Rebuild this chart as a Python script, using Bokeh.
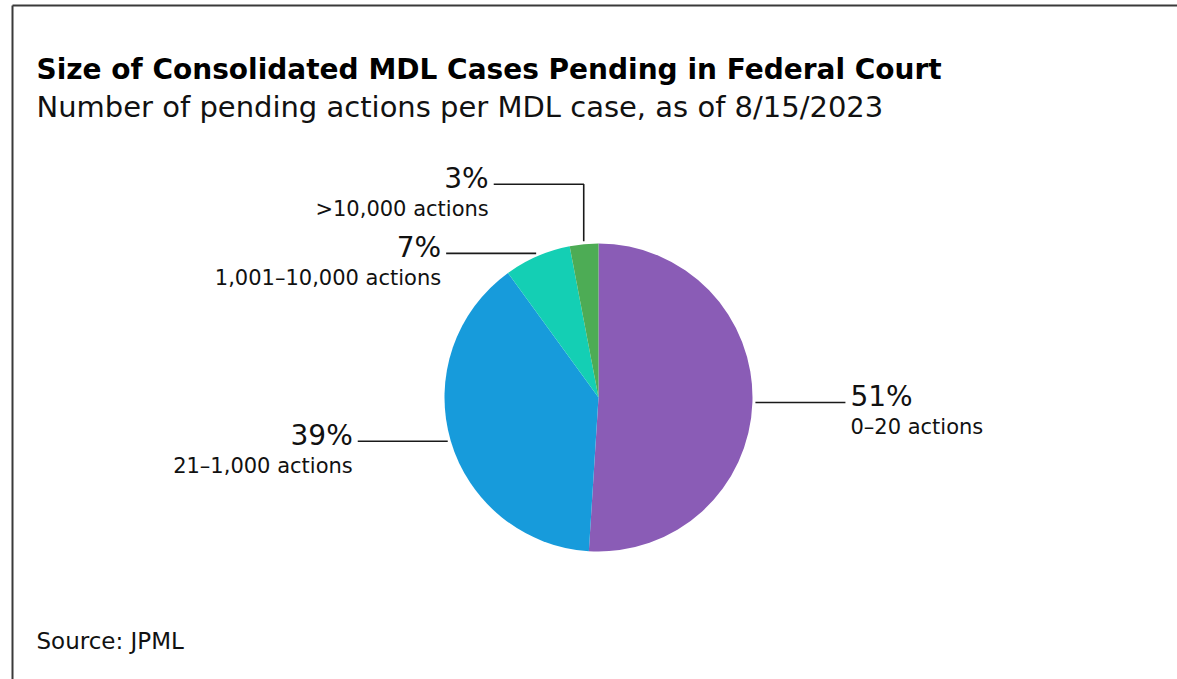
import math
from bokeh.plotting import figure
from bokeh.models import Range1d, ColumnDataSource
from bokeh.core.properties import value
from bokeh.embed import file_html
from bokeh.resources import INLINE

# Share of MDL cases by number of pending actions (%), clockwise from 12 o'clock
shares = [51, 39, 7, 3]
pct_labels = ["51%", "39%", "7%", "3%"]
size_labels = ["0\u201320 actions", "21\u20131,000 actions", "1,001\u201310,000 actions", ">10,000 actions"]
colors = ["#8a5cb6", "#179bdb", "#14cfb4", "#4dac55"]

title = "Size of Consolidated MDL Cases Pending in Federal Court"
subtitle = "Number of pending actions per MDL case, as of 8/15/2023"
source = "Source: JPML"

W, H = 1177, 679
FONT = value("DejaVu Sans")
INK = "#111111"

p = figure(width=W, height=H, x_range=Range1d(0, W), y_range=Range1d(0, H),
           x_axis_type=None, y_axis_type=None, toolbar_location=None,
           output_backend="svg", min_border=0, outline_line_color=None)
p.grid.visible = False
p.background_fill_color = "white"
p.border_fill_color = "white"

# frame lines (top and left)
p.segment(x0=[12, 12], y0=[H - 5, H - 5], x1=[W, 12], y1=[H - 5, 0],
          line_color="#3a3a3a", line_width=2)

# pie geometry
cx, cy, r = 598, H - 397, 154
total = float(sum(shares))
starts, ends, mids = [], [], []
cum = 0.0
for s in shares:
    a0 = math.pi / 2 - 2 * math.pi * cum / total
    cum += s
    a1 = math.pi / 2 - 2 * math.pi * cum / total
    starts.append(a0)
    ends.append(a1)
    mids.append((a0 + a1) / 2)

src = ColumnDataSource(dict(start=starts, end=ends, color=colors))
p.wedge(x=cx, y=cy, radius=r, start_angle="start", end_angle="end",
        direction="clock", fill_color="color", line_color=None, source=src)

# leader lines and labels
gap, run = 3, 90
rise = [0, 0, 0, 57]
for i, m in enumerate(mids):
    ex = cx + (r + gap) * math.cos(m)
    ey = cy + (r + gap) * math.sin(m)
    side = 1 if math.cos(m) >= 0 else -1
    xs, ys = [ex], [ey]
    ly = ey
    if rise[i]:
        ly = ey + rise[i]
        xs.append(ex)
        ys.append(ly)
    xs.append(ex + side * run)
    ys.append(ly)
    # horizontal leaders snap to a single row
    if not rise[i]:
        ys = [ly] * len(ys)
    p.line(xs, ys, line_color="#1a1a1a", line_width=1.6)

    tx = xs[-1] + side * 5
    align = "left" if side > 0 else "right"
    p.text(x=[tx], y=[ly + 6], text=[pct_labels[i]], text_font=FONT,
           text_font_size=value("28px"), text_color=INK,
           text_align=align, text_baseline="alphabetic")
    p.text(x=[tx], y=[ly + 6 - 30.5], text=[size_labels[i]], text_font=FONT,
           text_font_size=value("21px"), text_color=INK,
           text_align=align, text_baseline="alphabetic")

# headings and source
p.text(x=[36], y=[H - 69], text=[title], text_font=FONT, text_font_style="bold",
       text_font_size=value("28px"), text_color="#000000", text_baseline="alphabetic")
p.text(x=[36], y=[H - 106], text=[subtitle], text_font=FONT,
       text_font_size=value("29px"), text_color=INK, text_baseline="alphabetic")
p.text(x=[36], y=[H - 640], text=[source], text_font=FONT,
       text_font_size=value("23px"), text_color=INK, text_baseline="alphabetic")

open("out.html", "w").write(file_html(p, INLINE))
